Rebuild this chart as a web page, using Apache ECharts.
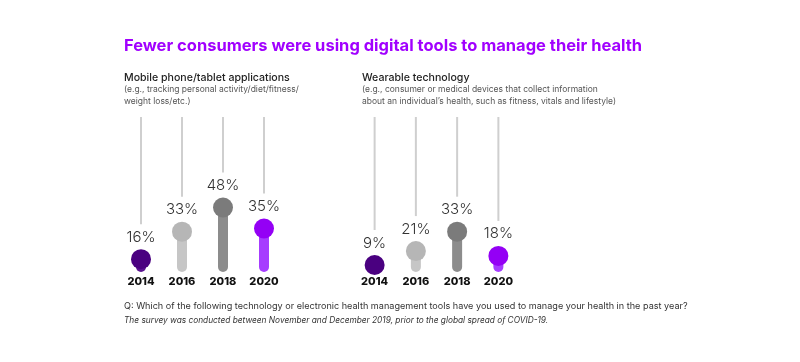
<!DOCTYPE html>
<html>
<head>
<meta charset="utf-8">
<script src="https://cdn.jsdelivr.net/npm/echarts@6/dist/echarts.min.js"></script>
<style>
html,body{margin:0;padding:0;background:#fff;}
#main{width:800px;height:362px;}
</style>
</head>
<body>
<div id="main"></div>
<script>
const years = ['2014', '2016', '2018', '2020'];
const mobileValues = [16, 33, 48, 35];
const wearableValues = [9, 21, 33, 18];
const circleColors = ['#4a0080', '#b6b6b6', '#7b7b7b', '#9400f5'];
const barColors = ['#5a1290', '#c6c6c6', '#8c8c8c', '#a63cff'];

const titleText = 'Fewer consumers were using digital tools to manage their health';
const leftHead = 'Mobile phone/tablet applications';
const leftSub = ['(e.g., tracking personal activity/diet/fitness/', 'weight loss/etc.)'];
const rightHead = 'Wearable technology';
const rightSub = ['(e.g., consumer or medical devices that collect information', 'about an individual\u2019s health, such as fitness, vitals and lifestyle)'];
const footQ = 'Q: Which of the following technology or electronic health management tools have you used to manage your health in the past year?';
const footNote = 'The survey was conducted between November and December 2019, prior to the global spread of COVID-19.';

const FONT = 'Inter, "Noto Sans", sans-serif';

function renderItem(params, api) {
  const i = api.value(0);
  const v = api.value(1);
  const top = params.coordSys.y;
  const base = api.coord([i, 0]);
  const x = base[0];
  const bottom = base[1] - 13;
  const r = 10;
  let cy = api.coord([i, v])[1];
  cy = Math.min(cy, bottom - r + 3);
  return {
    type: 'group',
    children: [
      { type: 'line', shape: { x1: x, y1: top, x2: x, y2: cy - r - 25 },
        style: { stroke: '#cfcfcf', lineWidth: 2 } },
      { type: 'rect', shape: { x: x - 5, y: cy, width: 10, height: Math.max(0, bottom - cy), r: [0, 0, 5, 5] },
        style: { fill: barColors[i] } },
      { type: 'circle', shape: { cx: x, cy: cy, r: r }, style: { fill: circleColors[i] } },
      { type: 'text', x: x, y: cy - r - 12,
        style: { text: v + '%', fill: '#333', font: '300 15px ' + FONT, align: 'center', verticalAlign: 'middle' } },
      { type: 'text', x: x, y: base[1] - 3,
        style: { text: years[i], fill: '#111', font: '800 11px ' + FONT, align: 'center', verticalAlign: 'middle' } }
    ]
  };
}

function makeData(vals) { return vals.map((v, i) => [i, v]); }

const chart = echarts.init(document.getElementById('main'), null, { renderer: 'canvas' });

function txt(x, y, text, font, fill) {
  return { type: 'text', left: x, top: y, style: { text: text, font: font, fill: fill } };
}

chart.setOption({
  animation: false,
  backgroundColor: '#fff',
  grid: [
    { left: 120.5, width: 164, top: 117, bottom: 77 },
    { left: 354, width: 165, top: 117, bottom: 77 }
  ],
  xAxis: [
    { type: 'category', data: years, gridIndex: 0, show: false },
    { type: 'category', data: years, gridIndex: 1, show: false }
  ],
  yAxis: [
    { type: 'value', min: 0, max: 104, gridIndex: 0, show: false },
    { type: 'value', min: 0, max: 104, gridIndex: 1, show: false }
  ],
  series: [
    { type: 'custom', xAxisIndex: 0, yAxisIndex: 0, renderItem: renderItem, data: makeData(mobileValues) },
    { type: 'custom', xAxisIndex: 1, yAxisIndex: 1, renderItem: renderItem, data: makeData(wearableValues) }
  ],
  graphic: [
    txt(124, 38, titleText, '700 16.5px ' + FONT, '#a100ff'),
    txt(124, 72, leftHead, '500 10.6px ' + FONT, '#222'),
    txt(124, 85, leftSub[0], '400 8.5px ' + FONT, '#555'),
    txt(124, 97, leftSub[1], '400 8.5px ' + FONT, '#555'),
    txt(362, 72, rightHead, '500 10.6px ' + FONT, '#222'),
    txt(362, 85, rightSub[0], '400 8.5px ' + FONT, '#555'),
    txt(362, 97, rightSub[1], '400 8.5px ' + FONT, '#555'),
    txt(124, 302, footQ, '400 9.1px ' + FONT, '#333'),
    txt(124, 317, footNote, 'italic 400 8.3px ' + FONT, '#333')
  ]
});
</script>
</body>
</html>
